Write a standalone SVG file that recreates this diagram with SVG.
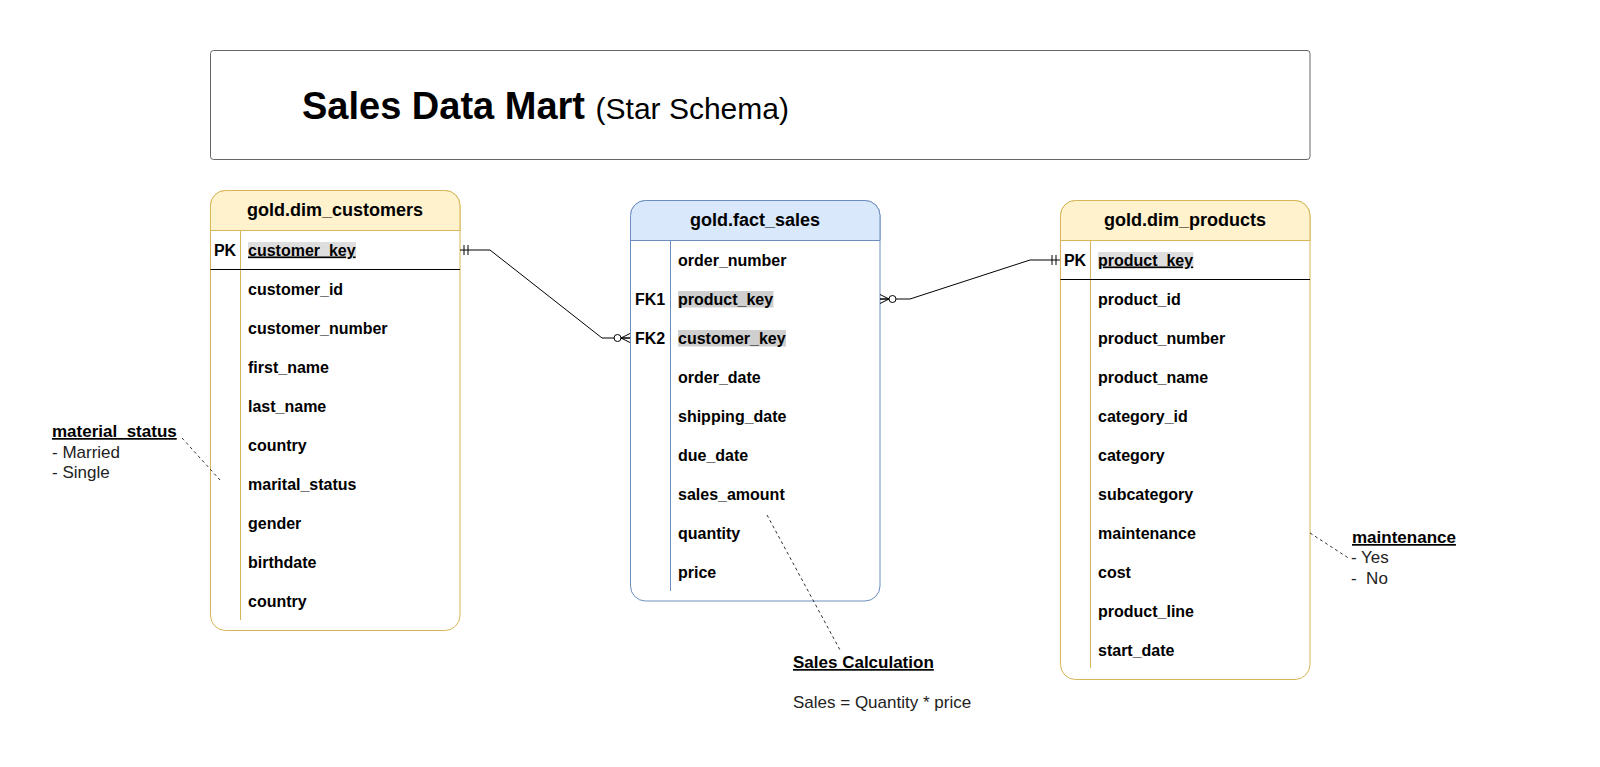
<svg xmlns="http://www.w3.org/2000/svg" width="1600" height="767" viewBox="0 0 1600 767">
<style>
text{font-family:"Liberation Sans",Arial,sans-serif;fill:#000}
.hdr{font-size:18px;font-weight:bold;text-anchor:middle}
.row{font-size:16px;font-weight:bold}
.key{font-size:16px;font-weight:bold;text-anchor:middle}
.ann{font-size:17px;fill:#222}
.annb{font-size:17px;font-weight:bold;text-decoration:underline}
.dim{fill:#fff;stroke:#d6b656;stroke-width:1}
.dimh{fill:#fff2cc;stroke:#d6b656;stroke-width:1}
.fact{fill:#fff;stroke:#6c8ebf;stroke-width:1}
.facth{fill:#dae8fc;stroke:#6c8ebf;stroke-width:1}
.sep{stroke:#000;stroke-width:1}
.hl1{fill:#dedede}
.hl2{fill:#cfcfcf}
.conn{fill:none;stroke:#000;stroke-width:1}
.note{fill:none;stroke:#333;stroke-width:1;stroke-dasharray:3 3}
</style>
<defs>
<marker id="mandOne" markerUnits="userSpaceOnUse" markerWidth="20" markerHeight="20" refX="0" refY="0" orient="auto-start-reverse" overflow="visible">
<path d="M-4,-5V5M-8,-5V5" stroke="#000" stroke-width="1" fill="none"/>
</marker>
<marker id="zeroMany" markerUnits="userSpaceOnUse" markerWidth="30" markerHeight="20" refX="0" refY="0" orient="auto-start-reverse" overflow="visible">
<path d="M-9,0L0,-4.5M-9,0L0,4.5M-9,0H0" stroke="#000" stroke-width="1" fill="none"/>
<circle cx="-12.5" cy="0" r="3.5" fill="#fff" stroke="#000" stroke-width="1"/>
</marker>
</defs>
<rect x="0" y="0" width="1600" height="767" fill="#fff"/>

<g id="title">
<rect x="210.5" y="50.5" width="1099.5" height="109" rx="3" fill="#fff" stroke="#666" stroke-width="1"/>
<text x="302" y="119" style="font-size:38px;font-weight:bold">Sales Data Mart <tspan style="font-size:30px;font-weight:normal">(Star Schema)</tspan></text>
</g>

<g id="dim_customers">
<rect class="dim" x="210.5" y="190.5" width="249.5" height="440" rx="15"/>
<path class="dimh" d="M210.5,230.5V205.5A15,15 0 0 1 225.5,190.5H445A15,15 0 0 1 460,205.5V230.5Z"/>
<text class="hdr" x="335" y="216">gold.dim_customers</text>
<line x1="240.5" y1="230.5" x2="240.5" y2="620" stroke="#d6b656"/>
<line class="sep" x1="210.5" y1="269.5" x2="460" y2="269.5"/>
<text class="key" x="225" y="255.5">PK</text>
<rect class="hl1" x="248" y="242" width="108" height="16.5"/>
<text class="row" x="248" y="255.5" text-decoration="underline">customer_key</text>
<text class="row" x="248" y="294.5">customer_id</text>
<text class="row" x="248" y="333.5">customer_number</text>
<text class="row" x="248" y="372.5">first_name</text>
<text class="row" x="248" y="411.5">last_name</text>
<text class="row" x="248" y="450.5">country</text>
<text class="row" x="248" y="489.5">marital_status</text>
<text class="row" x="248" y="528.5">gender</text>
<text class="row" x="248" y="567.5">birthdate</text>
<text class="row" x="248" y="606.5">country</text>
</g>

<g id="fact_sales">
<rect class="fact" x="630.5" y="200.5" width="249.5" height="400.5" rx="15"/>
<path class="facth" d="M630.5,240.5V215.5A15,15 0 0 1 645.5,200.5H865A15,15 0 0 1 880,215.5V240.5Z"/>
<text class="hdr" x="755" y="226">gold.fact_sales</text>
<line x1="670.5" y1="240.5" x2="670.5" y2="591" stroke="#6c8ebf"/>
<text class="row" x="678" y="265.5">order_number</text>
<text class="key" x="650" y="304.5">FK1</text>
<rect class="hl2" x="678" y="291" width="95.5" height="16.5"/>
<text class="row" x="678" y="304.5">product_key</text>
<text class="key" x="650" y="343.5">FK2</text>
<rect class="hl2" x="678" y="330" width="108" height="16.5"/>
<text class="row" x="678" y="343.5">customer_key</text>
<text class="row" x="678" y="382.5">order_date</text>
<text class="row" x="678" y="421.5">shipping_date</text>
<text class="row" x="678" y="460.5">due_date</text>
<text class="row" x="678" y="499.5">sales_amount</text>
<text class="row" x="678" y="538.5">quantity</text>
<text class="row" x="678" y="577.5">price</text>
</g>

<g id="dim_products">
<rect class="dim" x="1060.5" y="200.5" width="249.5" height="479" rx="15"/>
<path class="dimh" d="M1060.5,240.5V215.5A15,15 0 0 1 1075.5,200.5H1295A15,15 0 0 1 1310,215.5V240.5Z"/>
<text class="hdr" x="1185" y="226">gold.dim_products</text>
<line x1="1090.5" y1="240.5" x2="1090.5" y2="668" stroke="#d6b656"/>
<line class="sep" x1="1060.5" y1="279.5" x2="1310" y2="279.5"/>
<text class="key" x="1075" y="265.5">PK</text>
<rect class="hl1" x="1098" y="252" width="95.5" height="16.5"/>
<text class="row" x="1098" y="265.5" text-decoration="underline">product_key</text>
<text class="row" x="1098" y="304.5">product_id</text>
<text class="row" x="1098" y="343.5">product_number</text>
<text class="row" x="1098" y="382.5">product_name</text>
<text class="row" x="1098" y="421.5">category_id</text>
<text class="row" x="1098" y="460.5">category</text>
<text class="row" x="1098" y="499.5">subcategory</text>
<text class="row" x="1098" y="538.5">maintenance</text>
<text class="row" x="1098" y="577.5">cost</text>
<text class="row" x="1098" y="616.5">product_line</text>
<text class="row" x="1098" y="655.5">start_date</text>
</g>

<g id="connectors">
<path class="conn" d="M460,250H490L602,338H630" marker-start="url(#mandOne)" marker-end="url(#zeroMany)"/>
<path class="conn" d="M880,299H910L1030,260H1060" marker-start="url(#zeroMany)" marker-end="url(#mandOne)"/>
<path class="note" d="M182,438L220,480"/>
<path class="note" d="M1310,533L1350,559"/>
<path class="note" d="M767,515L840,650"/>
</g>

<g id="note_marital">
<text class="annb" x="52" y="437">material_status</text>
<text class="ann" x="52" y="458">- Married</text>
<text class="ann" x="52" y="478">- Single</text>
</g>
<g id="note_maintenance">
<text class="annb" x="1352" y="543">maintenance</text>
<text class="ann" x="1351" y="563">- Yes</text>
<text class="ann" x="1351" y="584" xml:space="preserve">-  No</text>
</g>
<g id="note_sales">
<text class="annb" x="793" y="668">Sales Calculation</text>
<text class="ann" x="793" y="708">Sales = Quantity * price</text>
</g>
</svg>
